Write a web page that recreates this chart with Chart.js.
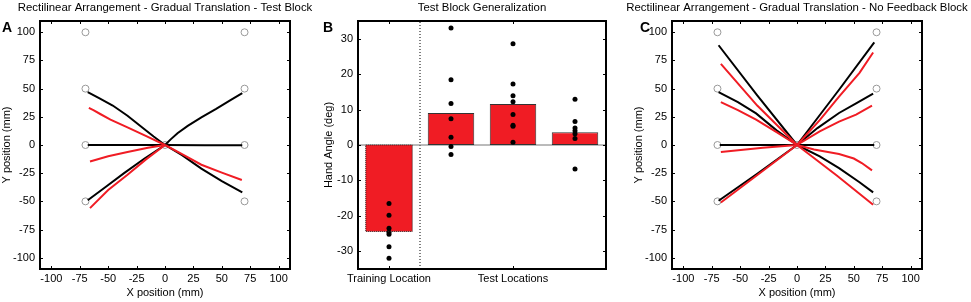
<!DOCTYPE html>
<html>
<head>
<meta charset="utf-8">
<script src="https://cdn.jsdelivr.net/npm/chart.js@4.4.1/dist/chart.umd.min.js"></script>
<style>
  body { margin: 0; background: #fff; }
  #wrap { position: relative; width: 971px; height: 302px; }
  canvas { position: absolute; top: 0; }
</style>
</head>
<body>
<div id="wrap">
  <canvas id="panelA" width="315" height="302" style="left:0"></canvas>
  <canvas id="panelB" width="315" height="302" style="left:315px"></canvas>
  <canvas id="panelC" width="351" height="302" style="left:620px"></canvas>
</div>
<script>
// tick values
const posTicks = [-100, -75, -50, -25, 0, 25, 50, 75, 100]
const angleTicks = [-30, -20, -10, 0, 10, 20, 30]
const locationTicks = [1, 3]
const locationLabels = ['Training Location', 'Test Locations']

// target circles (mm)
const targetX = [-70, -70, -70, -70, 0, 70, 70, 70, 70]
const targetY = [100, 50, 0, -50, 0, 100, 50, 0, -50]

// A: hand paths, test block (mm)
const testBlackPaths = [
  [[0, 0], [-10, 7.5], [-20, 15.5], [-33, 26], [-46, 35], [-58, 41.5], [-68, 47]],
  [[0, 0], [5, 5], [11, 10.5], [20, 17], [32, 24.5], [45, 32], [58, 40], [68, 46]],
  [[0, 0], [-35, 0], [-68, 0]],
  [[0, 0], [35, -0.3], [68, -0.3]],
  [[0, 0], [-18, -12], [-36, -25], [-52, -37], [-68, -49]],
  [[0, 0], [15, -9], [32, -21], [50, -32], [68, -42]]
]
const testRedPaths = [
  [[0, 0], [-16, 7.6], [-33, 15.6], [-48, 22.5], [-57, 27.5], [-63, 31], [-67, 33]],
  [[0, 0], [-15, -2.5], [-33, -6.2], [-50, -10], [-66, -14.6]],
  [[0, 0], [-17, -13], [-33, -26.4], [-50, -40], [-66, -56]],
  [[0, 0], [15, -8], [32, -17.5], [50, -24.5], [67.6, -31]]
]

// B: hand angle (deg)
const meanAngle = [-24.4, 9.0, 11.6, 3.6]
const subjectAngle = [
  [-16.5, -19.8, -23.5, -24.6, -25.2, -28.7, -32],
  [33, 18.4, 11.7, 7.4, 2.2, -0.4, -2.7],
  [28.6, 17.2, 13.9, 12.2, 8.6, 5.6, 5.3, 0.8],
  [12.9, 6.6, 4.8, 4.0, 3.2, 1.8, -6.8]
]

// C: hand paths, no feedback block (mm)
const noFbBlackPaths = [
  [[0, 0], [-35, 44], [-69, 88.5]],
  [[0, 0], [-18, 13], [-36, 28], [-52, 38], [-69, 47]],
  [[0, 0], [-68, 0]],
  [[0, 0], [68, 0]],
  [[0, 0], [-35, -25.5], [-69, -49.5]],
  [[0, 0], [37, 49], [68, 91]],
  [[0, 0], [18, 15], [37, 28.4], [52, 37], [67, 45.6]],
  [[0, 0], [20, -10], [37, -20.5], [55, -33], [67, -42]]
]
const noFbRedPaths = [
  [[0, 0], [-35, 35], [-67, 72]],
  [[0, 0], [-18, 11.5], [-36, 22.5], [-52, 31], [-67, 38]],
  [[0, 0], [-30, -2.5], [-67, -6.3]],
  [[0, 0], [-34, -26], [-67, -51]],
  [[0, 0], [20, 22], [37, 43], [55, 64], [67, 82]],
  [[0, 0], [20, 12], [37, 20.7], [52, 27], [66, 35]],
  [[0, 0], [15, -4], [37, -8], [50, -12], [57, -16], [66, -22.5]],
  [[0, 0], [35, -27], [67, -53]]
]

const FAMILY = 'Liberation Sans, Arial, sans-serif'
const font = { family: FAMILY, size: 11 }
const RED = '#f01c24'

// box, inward ticks, panel title and letter (matlab style)
const frame = {
  id: 'frame',
  afterDatasetsDraw (chart, args, opts) {
    const { ctx, chartArea: a, scales: { x, y } } = chart
    ctx.save()
    if (opts.dottedBar) {
      const bar = chart.getDatasetMeta(1).data[0]
      const p = bar.getProps(['x', 'y', 'base', 'width'], true)
      ctx.strokeStyle = '#222'
      ctx.lineWidth = 1
      ctx.setLineDash([1, 1])
      ctx.strokeRect(p.x - p.width / 2, p.base, p.width, p.y - p.base)
      ctx.setLineDash([])
    }
    ctx.strokeStyle = '#000'
    ctx.lineWidth = 1
    ctx.beginPath()
    x.ticks.forEach(t => {
      const px = Math.round(x.getPixelForValue(t.value)) + 0.5
      ctx.moveTo(px, a.top); ctx.lineTo(px, a.top + 3)
      ctx.moveTo(px, a.bottom); ctx.lineTo(px, a.bottom - 3)
    })
    y.ticks.forEach(t => {
      const py = Math.round(y.getPixelForValue(t.value)) + 0.5
      ctx.moveTo(a.left, py); ctx.lineTo(a.left + 3, py)
      ctx.moveTo(a.right, py); ctx.lineTo(a.right - 3, py)
    })
    ctx.stroke()
    ctx.lineWidth = 2
    ctx.strokeRect(a.left, a.top, a.width, a.height)
    ctx.fillStyle = '#000'
    ctx.font = '11.4px ' + FAMILY
    ctx.textAlign = 'center'
    ctx.fillText(opts.title, (a.left + a.right) / 2, 11)
    ctx.font = 'bold 14px ' + FAMILY
    ctx.textAlign = 'left'
    ctx.fillText(opts.letter, opts.letterX, 32)
    ctx.restore()
  }
}

function axis (min, max, ticks, size, title, titlePad, horizontal, labels) {
  return {
    type: 'linear',
    min,
    max,
    offset: false,
    afterBuildTicks: s => { s.ticks = ticks.map(v => ({ value: v })) },
    afterFit: s => { if (horizontal) s.height = size; else s.width = size },
    grid: { display: false, drawTicks: false },
    border: { display: false },
    ticks: {
      autoSkip: false,
      maxRotation: 0,
      padding: horizontal ? 3 : 5,
      color: '#000',
      font,
      callback: labels ? v => labels[ticks.indexOf(v)] : v => v
    },
    title: {
      display: true,
      text: title,
      color: '#000',
      font,
      padding: horizontal ? { top: 0, bottom: 2.4 } : { top: titlePad, bottom: 0 }
    }
  }
}

function pathSet (path, color) {
  return {
    data: path.map(([x, y]) => ({ x, y })),
    showLine: true,
    borderColor: color,
    borderWidth: 2,
    pointRadius: 0,
    tension: 0
  }
}

function pathChart (id, blackPaths, redPaths, title, letter, letterX, yWidth, yTitlePad, padRight) {
  const targets = {
    data: targetX.map((x, i) => ({ x, y: targetY[i] })),
    pointRadius: 3.5,
    pointBorderColor: '#999',
    pointBackgroundColor: '#fff',
    pointBorderWidth: 1
  }
  new Chart(document.getElementById(id), {
    type: 'scatter',
    data: {
      datasets: [
        ...redPaths.map(p => pathSet(p, RED)),
        ...blackPaths.map(p => pathSet(p, '#000')),
        targets
      ]
    },
    options: {
      responsive: false,
      animation: false,
      devicePixelRatio: 1,
      layout: { padding: { left: 0, right: padRight, top: 21, bottom: 0 } },
      plugins: {
        legend: { display: false },
        tooltip: { enabled: false },
        frame: { title, letter, letterX }
      },
      scales: {
        x: axis(-110, 110, posTicks, 33, 'X position (mm)', 0, true),
        y: axis(-110, 110, posTicks, yWidth, 'Y position (mm)', yTitlePad, false)
      }
    },
    plugins: [frame]
  })
}

pathChart('panelA', testBlackPaths, testRedPaths,
  'Rectilinear Arrangement - Gradual Translation - Test Block', 'A', 2, 40, 0.6, 25)

pathChart('panelC', noFbBlackPaths, noFbRedPaths,
  'Rectilinear Arrangement - Gradual Translation - No Feedback Block', 'C', 20, 52, 12, 49)

new Chart(document.getElementById('panelB'), {
  type: 'bar',
  data: {
    datasets: [
      {
        type: 'scatter',
        data: subjectAngle.flatMap((vals, i) => vals.map(v => ({ x: i + 1, y: v }))),
        pointRadius: 2.5,
        pointBackgroundColor: '#000',
        pointBorderWidth: 0
      },
      {
        data: meanAngle.map((v, i) => ({ x: i + 1, y: v })),
        backgroundColor: RED,
        borderColor: '#333',
        borderWidth: [0, 1, 1, 1],
        borderSkipped: false,
        barPercentage: 0.75,
        categoryPercentage: 1
      },
      {
        type: 'line',
        data: [{ x: 0.5, y: 0 }, { x: 4.5, y: 0 }],
        borderColor: '#777',
        borderWidth: 1,
        pointRadius: 0
      },
      {
        type: 'line',
        data: [{ x: 1.5, y: -35 }, { x: 1.5, y: 35 }],
        borderColor: '#000',
        borderWidth: 1,
        borderDash: [1, 2],
        pointRadius: 0
      }
    ]
  },
  options: {
    responsive: false,
    animation: false,
    devicePixelRatio: 1,
    layout: { padding: { left: 0, right: 24, top: 21, bottom: 0 } },
    plugins: {
      legend: { display: false },
      tooltip: { enabled: false },
      frame: { title: 'Test Block Generalization', letter: 'B', letterX: 8, dottedBar: true }
    },
    scales: {
      x: axis(0.5, 4.5, locationTicks, 33, '', 0, true, locationLabels),
      y: axis(-35, 35, angleTicks, 43, 'Hand Angle (deg)', 7.4, false)
    }
  },
  plugins: [frame]
})
</script>
</body>
</html>
